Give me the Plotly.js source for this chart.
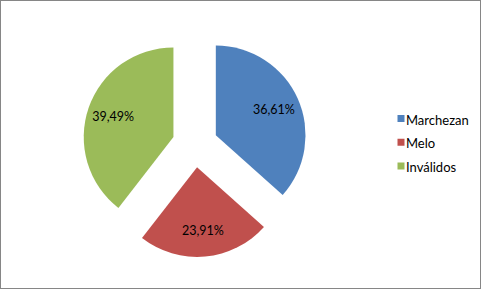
<!DOCTYPE html>
<html><head><meta charset="utf-8">
<script src="https://cdn.plot.ly/plotly-3.0.1.min.js"></script>
<style>
html,body{margin:0;padding:0;background:#fff;}
#chart{width:479px;height:287px;border:1px solid #868686;}
</style></head>
<body><div id="chart"></div>
<script>
var categories = ["Marchezan", "Melo", "Inválidos"];
var values = [36.61, 23.91, 39.49];
var colors = ["#4F81BD", "#C0504D", "#9BBB59"];

var W = 479, H = 287;
var cx = 194, cy = 143.5, half = 112.5;
var FONT = "Lato, 'Open Sans', sans-serif";
var dom = {x: [(cx - half) / W, (cx + half) / W], y: [(H - cy - half) / H, (H - cy + half) / H]};
var pulls = [0.254, 0.254, 0.254];

var slices = {
  type: "pie",
  labels: categories.map(function (c) { return '<span style="font-size:13px">' + c + '</span>'; }),
  values: values,
  sort: false,
  direction: "clockwise",
  rotation: 0,
  pull: pulls,
  marker: {colors: colors, line: {width: 0}},
  textinfo: "none",
  hoverinfo: "skip",
  domain: dom
};
var labelsRing = {
  type: "pie",
  labels: categories,
  values: values,
  sort: false,
  direction: "clockwise",
  rotation: 0,
  pull: pulls,
  hole: 0.42,
  showlegend: false,
  marker: {colors: ["rgba(0,0,0,0)", "rgba(0,0,0,0)", "rgba(0,0,0,0)"], line: {width: 0}},
  textinfo: "percent",
  texttemplate: "%{percent:.2%}",
  textposition: "inside",
  insidetextorientation: "horizontal",
  textfont: {family: FONT, size: 12.5, color: "#000"},
  hoverinfo: "skip",
  domain: dom
};
var layout = {
  width: W, height: H,
  margin: {l: 0, r: 0, t: 0, b: 0, autoexpand: false},
  separators: ",.",
  paper_bgcolor: "#fff",
  showlegend: true,
  legend: {x: 0.762, y: 0.507, xanchor: "left", yanchor: "middle",
    font: {family: FONT, size: 16, color: "#000"},
    tracegroupgap: 0, itemwidth: 30, traceorder: "normal"},
  font: {family: FONT}
};
Plotly.newPlot("chart", [slices, labelsRing], layout, {displayModeBar: false, staticPlot: true}).then(function (gd) {
  var pts = gd.querySelectorAll(".legend .legendpoints path");
  pts.forEach(function (p) { p.setAttribute("d", "M18.5,3.5H11.5V-3.5H18.5Z"); });
});
</script></body></html>
